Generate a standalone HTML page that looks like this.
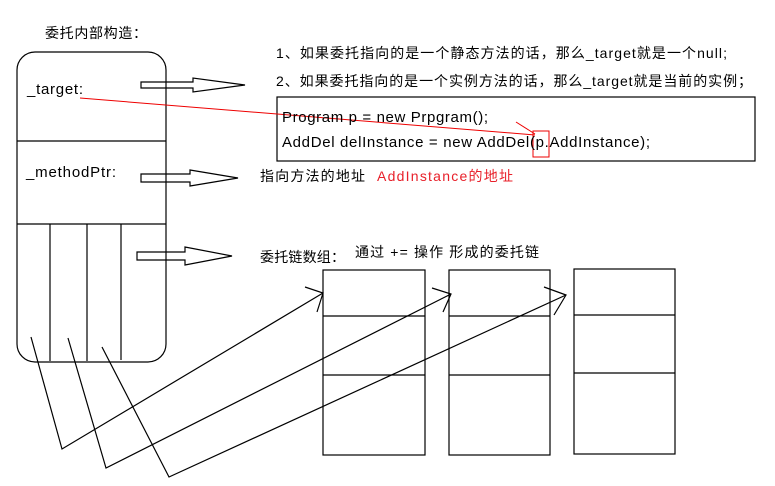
<!DOCTYPE html>
<html><head><meta charset="utf-8"><style>html,body{margin:0;padding:0;background:#fff}svg{display:block}text{font-family:"Liberation Sans","Noto Sans CJK SC",sans-serif;font-size:14px;fill:#000}</style></head><body>
<svg width="775" height="486" viewBox="0 0 775 486" xmlns="http://www.w3.org/2000/svg">
<g fill="none" stroke="#000" stroke-width="1.2">
<rect x="17" y="52" width="149" height="310" rx="18"/>
<line x1="17" y1="141" x2="166" y2="141"/>
<line x1="17" y1="224" x2="166" y2="224"/>
<line x1="50" y1="224" x2="50" y2="361"/>
<line x1="87" y1="224" x2="87" y2="361"/>
<line x1="121" y1="224" x2="121" y2="360"/>
<polygon points="141,82 193,82 193,78 245,85 193,92 193,88 141,88"/>
<polygon points="141,174 190,174 190,170 238,178 190,186 190,182 141,182"/>
<polygon points="137,252 185,252 185,247 232,256 185,265 185,260 137,260"/>
<rect x="277" y="97" width="478" height="64"/>
<rect x="323" y="270" width="102" height="185"/>
<line x1="323" y1="316" x2="425" y2="316"/><line x1="323" y1="375" x2="425" y2="375"/>
<rect x="449" y="270" width="101" height="185"/>
<line x1="449" y1="316" x2="550" y2="316"/><line x1="449" y1="375" x2="550" y2="375"/>
<rect x="574" y="269" width="101" height="185"/>
<line x1="574" y1="315" x2="675" y2="315"/><line x1="574" y1="373" x2="675" y2="373"/>
<polyline points="31,337 62,449 323,293"/>
<polyline points="305,287 323,293 317,312"/>
<polyline points="68,338 106,468 451,294"/>
<polyline points="432,288 451,294 443,312"/>
<polyline points="102,347 169,477 566,295"/>
<polyline points="544,287 566,295 554,315"/>
</g>
<g fill="none" stroke="#e00" stroke-width="1">
<line x1="80" y1="98" x2="535" y2="135"/>
<polyline points="516,122 535,134"/>
<rect x="533" y="131" width="16" height="26"/>
</g>
<text x="45" y="38" textLength="102">委托内部构造：</text>
<text x="276" y="58" textLength="451">1、如果委托指向的是一个静态方法的话，那么_target就是一个null;</text>
<text x="276" y="86" textLength="476">2、如果委托指向的是一个实例方法的话，那么_target就是当前的实例；</text>
<text x="27" y="94" style="font-size:15px" textLength="56">_target:</text>
<text x="26" y="177" style="font-size:15px" textLength="90">_methodPtr:</text>
<text x="282" y="122" style="font-size:15px" textLength="206">Program p = new Prpgram();</text>
<text x="282" y="147" style="font-size:15px" textLength="368">AddDel delInstance = new AddDel(p.AddInstance);</text>
<text x="260" y="181" textLength="105">指向方法的地址</text>
<text x="377" y="181" textLength="136" style="fill:#e8202a">AddInstance的地址</text>
<text x="260" y="262" textLength="85">委托链数组：</text>
<text x="355" y="257" textLength="184">通过 += 操作 形成的委托链</text>
</svg>
</body></html>
